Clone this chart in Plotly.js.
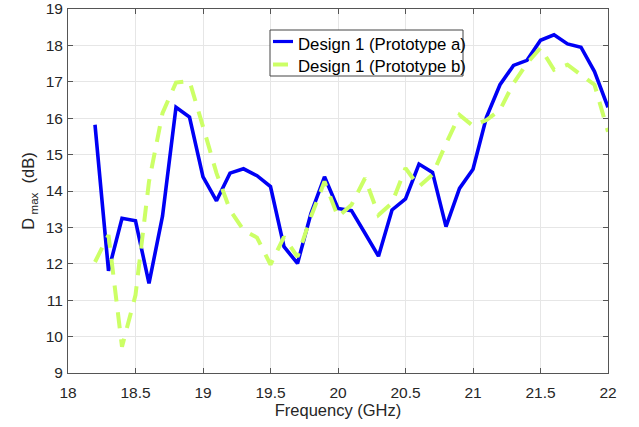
<!DOCTYPE html>
<html>
<head>
<meta charset="utf-8">
<script src="https://cdn.plot.ly/plotly-3.0.1.min.js"></script>
<style>
  html, body { margin: 0; padding: 0; background: #fff; }
  #chart { width: 639px; height: 427px; }
</style>
</head>
<body>
<div id="chart"></div>
<script>
// Frequency sweep (GHz)
const freq = [18.2, 18.3, 18.4, 18.5, 18.6, 18.7, 18.8, 18.9, 19.0, 19.1,
              19.2, 19.3, 19.4, 19.5, 19.6, 19.7, 19.8, 19.9, 20.0, 20.1,
              20.2, 20.3, 20.4, 20.5, 20.6, 20.7, 20.8, 20.9, 21.0, 21.1,
              21.2, 21.3, 21.4, 21.5, 21.6, 21.7, 21.8, 21.9, 22.0];

// Maximum directivity (dB), prototype a
const dmaxA = [15.82, 11.81, 13.25, 13.18, 11.46, 13.31, 16.30, 16.03, 14.39, 13.73,
               14.49, 14.61, 14.42, 14.12, 12.47, 12.01, 13.39, 14.39, 13.52, 13.46,
               12.84, 12.21, 13.48, 13.78, 14.74, 14.51, 13.02, 14.07, 14.60, 16.03,
               16.92, 17.45, 17.59, 18.14, 18.29, 18.04, 17.95, 17.28, 16.30];

// Maximum directivity (dB), prototype b
const dmaxB = [12.05, 12.79, 9.72, 11.14, 14.26, 16.14, 16.98, 17.02, 15.77, 14.49,
               13.48, 12.93, 12.72, 11.98, 12.74, 12.19, 13.30, 14.26, 13.29, 13.62,
               14.35, 13.34, 13.67, 14.63, 14.12, 14.45, 15.30, 16.09, 15.79, 15.95,
               16.23, 16.96, 17.51, 17.93, 17.33, 17.47, 17.19, 16.92, 15.63];

const seriesNames = ['Design 1 (Prototype a)', 'Design 1 (Prototype b)'];
const xTicks = [18, 18.5, 19, 19.5, 20, 20.5, 21, 21.5, 22];
const yTicks = [9, 10, 11, 12, 13, 14, 15, 16, 17, 18, 19];

const colorA = '#0000f5';
const colorB = '#ccff66';

const traces = [
  {
    x: freq, y: dmaxA, name: seriesNames[0], type: 'scatter', mode: 'lines',
    line: { color: colorA, width: 3.6 }
  },
  {
    x: freq, y: dmaxB, name: seriesNames[1], type: 'scatter', mode: 'lines',
    line: { color: colorB, width: 4, dash: '16px,11px' }
  }
];

const fontFamily = 'Liberation Sans, Arial, Helvetica, sans-serif';

// Figure geometry, used to place the boxed legend in paper units
const W = 639, H = 427;
const M = { l: 68, r: 31, t: 9, b: 54 };
const plotW = W - M.l - M.r, plotH = H - M.t - M.b;
const px = v => (v - M.l) / plotW;
const py = v => (H - M.b - v) / plotH;

// Legend: framed box with a short line sample per series
const legendBox = { left: 270, right: 463, top: 30, bottom: 76 };
const legendRows = [
  { y: 44, lineY: 41.5, x0: 273, x1: 293, color: colorA, width: 3.2 },
  { y: 66, lineY: 64.5, x0: 273, x1: 288, color: colorB, width: 4 }
];

const shapes = [
  {
    type: 'rect', xref: 'paper', yref: 'paper', layer: 'above',
    x0: px(legendBox.left), x1: px(legendBox.right),
    y0: py(legendBox.bottom), y1: py(legendBox.top),
    fillcolor: '#fff', line: { color: '#444', width: 1 }
  }
].concat(legendRows.map(r => ({
  type: 'line', xref: 'paper', yref: 'paper', layer: 'above',
  x0: px(r.x0), x1: px(r.x1), y0: py(r.lineY), y1: py(r.lineY),
  line: { color: r.color, width: r.width }
})));

const annotations = legendRows.map((r, i) => ({
  xref: 'paper', yref: 'paper', x: px(296), y: py(r.y),
  xanchor: 'left', yanchor: 'middle', showarrow: false,
  text: seriesNames[i],
  font: { family: fontFamily, size: 16.8, color: '#000' }
}));

const axisCommon = {
  showline: true, linecolor: '#555', linewidth: 1, mirror: 'ticks',
  ticks: 'inside', ticklen: 5, tickcolor: '#555',
  showgrid: true, gridcolor: '#e6e6e6', gridwidth: 1,
  zeroline: false,
  tickfont: { family: fontFamily, size: 15.5, color: '#262626' }
};

const layout = {
  width: W, height: H,
  margin: M,
  paper_bgcolor: '#fff', plot_bgcolor: '#fff',
  font: { family: fontFamily, color: '#262626' },
  xaxis: Object.assign({}, axisCommon, {
    range: [18, 22], tickvals: xTicks, ticktext: xTicks.map(String),
    ticklabelstandoff: 5,
    title: { text: 'Frequency (GHz)', font: { size: 16.5, color: '#262626' }, standoff: 4 }
  }),
  yaxis: Object.assign({}, axisCommon, {
    range: [9, 19], tickvals: yTicks, ticktext: yTicks.map(String),
    ticklabelstandoff: 1,
    title: {
      text: 'D\u2009<sub>max</sub>  (dB)',
      font: { size: 16.5, color: '#262626' }, standoff: 6
    }
  }),
  showlegend: false,
  shapes: shapes,
  annotations: annotations
};

Plotly.newPlot('chart', traces, layout, { displayModeBar: false, staticPlot: true });
</script>
</body>
</html>
